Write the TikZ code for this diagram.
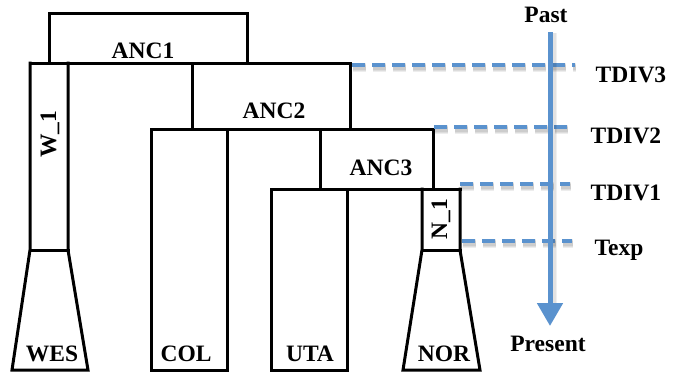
\documentclass[tikz,border=0pt]{standalone}
\usepackage{fontspec}
\setmainfont{Liberation Serif}
\usetikzlibrary{arrows.meta}
\definecolor{tblue}{RGB}{90,146,206}
\tikzset{
  tree/.style={draw=black, line width=3pt, line join=miter, line cap=rect},
  lbl/.style={font=\bfseries\fontsize{23.5}{25}\selectfont, inner sep=0pt, anchor=base},
  rlbl/.style={font=\bfseries\fontsize{23.5}{25}\selectfont, inner sep=0pt, rotate=90},
  tline/.style={draw=tblue, line width=4.5pt, dash pattern=on 13pt off 7pt},
  tshadow/.style={draw=black, opacity=0.07, dash pattern=on 13pt off 7pt},
}
\begin{document}
\begin{tikzpicture}[x=1pt, y=-1pt]
\useasboundingbox (0,0) rectangle (678,376);
% coordinates
\coordinate (a1l) at (49,63);  \coordinate (a1r) at (247,63);
\coordinate (a2l) at (192,63); \coordinate (a2r) at (350,63);
\coordinate (a3l) at (320,129); \coordinate (a3r) at (433,129);
% ANC1
\draw[tree] (a1l) -- (49,13) -- (247,13) -- (a1r);
\draw[tree] (30,63) -- (a2r);
% W_1 and WES
\draw[tree] (30,63) -- (30,250) -- (12,370) -- (88,370) -- (68,250) -- (68,63);
\draw[tree] (30,250) -- (68,250);
% ANC2
\draw[tree] (a2l) -- (192,129);
\draw[tree] (a2r) -- (350,129);
\draw[tree] (151,129) -- (a3r);
% COL
\draw[tree] (151,129) -- (151,370) -- (227,370) -- (227,129);
% ANC3
\draw[tree] (a3l) -- (320,189);
\draw[tree] (a3r) -- (433,189);
\draw[tree] (271,189) -- (460,189);
% UTA
\draw[tree] (271,189) -- (271,370) -- (347,370) -- (347,189);
% N_1 and NOR
\draw[tree] (422,189) -- (422,250) -- (403,370) -- (480,370) -- (460,250) -- (460,189);
\draw[tree] (422,250) -- (460,250);
% labels
\node[lbl] (anc1) at (143,58) {ANC1};
\node[lbl] (anc2) at (274,118) {ANC2};
\node[lbl] (anc3) at (381,175) {ANC3};
\node[rlbl] (w1) at (50,134) {W\_1};
\node[rlbl] (n1) at (441,219) {N\_1};
\node[lbl] (wes) at (52,361) {WES};
\node[lbl] (col) at (186,361) {COL};
\node[lbl] (uta) at (310,361) {UTA};
\node[lbl] (nor) at (444,361) {NOR};
% time axis
\node[lbl] (past) at (546,22) {Past};
\node[lbl] (present) at (548,351) {Present};
\node[lbl] (tdiv3) at (631,82) {TDIV3};
\node[lbl] (tdiv2) at (626,143) {TDIV2};
\node[lbl] (tdiv1) at (626,200) {TDIV1};
\node[lbl] (texp) at (619,255) {Texp};
% dashed time lines
\coordinate (d3a) at (352,65);  \coordinate (d3b) at (575,65);
\coordinate (d2a) at (434,127); \coordinate (d2b) at (572,127);
\coordinate (d1a) at (460,184); \coordinate (d1b) at (570,184);
\coordinate (dea) at (462,241); \coordinate (deb) at (572,241);
\foreach \p/\q in {d3a/d3b, d2a/d2b, d1a/d1b, dea/deb} {
  \foreach \w in {9,7,5} {
    \draw[tshadow, line width=\w pt] ([shift={(1,2.5)}]\p) -- ([shift={(1,2.5)}]\q);
  }
  \draw[tline] (\p) -- (\q);
}
% arrow
\coordinate (ars) at (550,32);
\coordinate (are) at (550,326);
\foreach \w in {9,7} {
  \draw[draw=black, opacity=0.06, line width=\w pt] (552,33) -- (552,304);
}
\draw[draw=tblue, line width=5pt, -{Triangle[width=25pt,length=23pt]}] (ars) -- (are);
\end{tikzpicture}
\end{document}
